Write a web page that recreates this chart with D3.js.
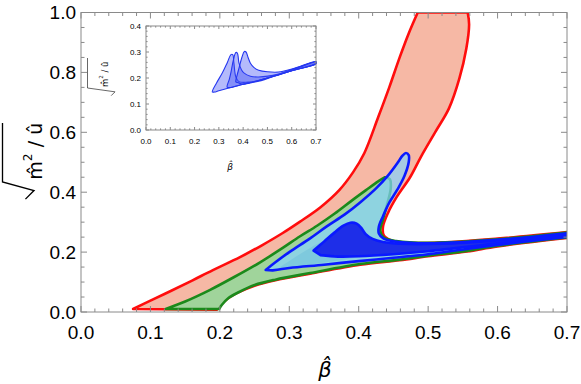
<!DOCTYPE html>
<html><head><meta charset="utf-8">
<script src="https://cdn.jsdelivr.net/npm/d3@7"></script>
<style>body{margin:0;background:#fff}svg{display:block}</style>
</head><body>
<svg id="c" width="581" height="384"></svg>
<script>
// ---- data (beta-hat, sqrt(m^2/u)) ----
const xTicks = [0.0,0.1,0.2,0.3,0.4,0.5,0.6,0.7];
const yTicks = [0.0,0.2,0.4,0.6,0.8,1.0];
const insetXTicks = [0.0,0.1,0.2,0.3,0.4,0.5,0.6,0.7];
const insetYTicks = [0.0,0.1,0.2,0.3,0.4];

// red region boundary pieces
const redLeft  = [[0.075,0.010],[0.1,0.038],[0.13,0.071],[0.16,0.105],[0.19,0.14],[0.229,0.183],[0.26,0.222],[0.29,0.263],[0.315,0.301],[0.345,0.35],[0.372,0.407],[0.392,0.467],[0.408,0.53],[0.428,0.65],[0.444,0.75],[0.459,0.85],[0.472,0.93],[0.485,1.0]];
const redRight = [[0.557,1.0],[0.559,0.96],[0.555,0.88],[0.545,0.78],[0.53,0.68],[0.51,0.6],[0.49,0.52],[0.474,0.45],[0.455,0.385],[0.442,0.33],[0.435,0.285],[0.436,0.257],[0.446,0.24],[0.466,0.232],[0.51,0.231],[0.6,0.245],[0.7,0.267]];
const redLower = [[0.7,0.247],[0.6,0.219],[0.556,0.202],[0.5,0.186],[0.459,0.173],[0.402,0.158],[0.33,0.128],[0.28,0.106],[0.25,0.088],[0.225,0.064],[0.21,0.043],[0.2,0.02],[0.196,0.008]];
// green region
const greenLeft  = [[0.122,0.010],[0.15,0.035],[0.186,0.074],[0.22,0.116],[0.258,0.166],[0.29,0.213],[0.315,0.252],[0.34,0.288],[0.365,0.328],[0.39,0.372],[0.41,0.406],[0.428,0.436],[0.438,0.45]];
const greenRight = [[0.438,0.45],[0.445,0.443],[0.446,0.41],[0.441,0.36],[0.435,0.31],[0.431,0.272],[0.436,0.249],[0.454,0.237],[0.5,0.231],[0.6,0.243],[0.7,0.265]];
const greenLower = [[0.7,0.249],[0.6,0.221],[0.556,0.204],[0.5,0.188],[0.459,0.175],[0.402,0.16],[0.33,0.13],[0.28,0.108],[0.25,0.09],[0.227,0.066],[0.212,0.046],[0.203,0.024],[0.199,0.010]];
// darker (teal) inner patch under the light blue region
const tealUpper = [[0.285,0.148],[0.305,0.178],[0.325,0.207],[0.345,0.232],[0.36,0.238]];
const tealLower = [[0.41,0.185],[0.38,0.175],[0.34,0.162],[0.3,0.15]];
// light blue region
const blueUpper = [[0.266,0.14],[0.28,0.166],[0.3,0.2],[0.33,0.246],[0.354,0.286],[0.38,0.326],[0.402,0.366],[0.425,0.413],[0.443,0.458],[0.456,0.498],[0.463,0.522],[0.468,0.531],[0.472,0.524],[0.472,0.5],[0.466,0.455],[0.456,0.41],[0.444,0.365],[0.435,0.32],[0.429,0.285],[0.429,0.262],[0.436,0.245],[0.453,0.235],[0.5,0.229],[0.6,0.241],[0.7,0.263]];
const blueLower = [[0.7,0.251],[0.6,0.224],[0.5,0.193],[0.45,0.181],[0.4,0.17],[0.35,0.158],[0.3,0.147],[0.276,0.139]];
// dark blue region
const darkUpper = [[0.335,0.205],[0.35,0.235],[0.365,0.265],[0.378,0.288],[0.388,0.298],[0.397,0.295],[0.404,0.28],[0.41,0.26],[0.42,0.244],[0.435,0.234],[0.46,0.228],[0.52,0.228],[0.6,0.239],[0.7,0.26]];
const darkLower = [[0.7,0.254],[0.6,0.229],[0.5,0.203],[0.45,0.193],[0.4,0.186],[0.37,0.185],[0.345,0.19]];

const insetFinA = [[0.273,0.146],[0.29,0.18],[0.314,0.219],[0.335,0.26],[0.35,0.29],[0.357,0.29],[0.362,0.257],[0.37,0.204],[0.383,0.186],[0.42,0.184],[0.464,0.188],[0.55,0.215],[0.62,0.238],[0.7,0.262],[0.7,0.255],[0.6,0.228],[0.5,0.2],[0.4,0.176],[0.3,0.151],[0.282,0.146]];
const insetFinB = [[0.334,0.165],[0.343,0.195],[0.35,0.223],[0.36,0.27],[0.37,0.298],[0.376,0.296],[0.383,0.257],[0.393,0.232],[0.403,0.22],[0.43,0.207],[0.464,0.204],[0.545,0.215],[0.62,0.238],[0.7,0.262],[0.7,0.255],[0.6,0.228],[0.5,0.2],[0.4,0.176],[0.345,0.163]];
const insetFinC = [[0.37,0.185],[0.375,0.21],[0.383,0.238],[0.395,0.28],[0.405,0.302],[0.412,0.3],[0.42,0.28],[0.43,0.257],[0.445,0.24],[0.464,0.23],[0.5,0.224],[0.545,0.223],[0.62,0.24],[0.7,0.263],[0.7,0.255],[0.6,0.228],[0.5,0.2],[0.4,0.176],[0.38,0.182]];

// ---- drawing ----
const svg = d3.select('#c');
const x = d3.scaleLinear([0,0.7],[81,567]);
const y = d3.scaleLinear([0,1],[312,12.5]);
const xi = d3.scaleLinear([0,0.7],[146,316]);
const yi = d3.scaleLinear([0,0.4],[130,26]);
const frameCol = '#8a8a8a';

svg.append('defs').append('clipPath').attr('id','clipMain')
  .append('rect').attr('x',x(0)).attr('y',y(1)).attr('width',x(0.7)-x(0)).attr('height',y(0)-y(1));

const gMain = svg.append('g').attr('clip-path','url(#clipMain)');
const edge = d3.line().x(d=>x(d[0])).y(d=>y(d[1])).curve(d3.curveCatmullRom.alpha(0.5));
function piecewise(pieces){
  return pieces.map((p,i)=>{ const s = edge(p); return i===0 ? s : 'L'+s.slice(1); }).join('') + 'Z';
}
function region(pieces, fill, stroke, op, sw){
  gMain.append('path').attr('d', piecewise(pieces)).attr('fill', fill).attr('fill-opacity', op)
    .attr('stroke', stroke).attr('stroke-width', sw===undefined?2.6:sw).attr('stroke-linejoin','round');
}
region([redLeft, redRight, redLower], '#f6b8a5', '#ff0d0d', 1);
region([greenLeft, greenRight, greenLower], '#a0d49b', '#1b8a1b', 1);
region([tealUpper, tealLower], '#3d8f86', 'none', 0.55, 0);
region([blueUpper, blueLower], '#86d3fb', '#0a1aff', 0.72);
region([darkUpper, darkLower], '#1e2ee8', '#0a1aff', 1);

// frame & ticks
function frame(g, xs, ys, xMaj, xMin, yMaj, yMin, lMaj, lMin){
  const [x0,x1] = xs.range(), [y0,y1] = ys.range();
  g.append('rect').attr('x',x0).attr('y',y1).attr('width',x1-x0).attr('height',y0-y1)
    .attr('fill','none').attr('stroke',frameCol).attr('stroke-width',1);
  const t = g.append('g').attr('stroke',frameCol).attr('stroke-width',1);
  xMin.forEach(v=>{ const px = xs(v), L = xMaj.some(m=>Math.abs(m-v)<1e-9)?lMaj:lMin;
    t.append('line').attr('x1',px).attr('x2',px).attr('y1',y0).attr('y2',y0-L);
    t.append('line').attr('x1',px).attr('x2',px).attr('y1',y1).attr('y2',y1+L); });
  yMin.forEach(v=>{ const py = ys(v), L = yMaj.some(m=>Math.abs(m-v)<1e-9)?lMaj:lMin;
    t.append('line').attr('y1',py).attr('y2',py).attr('x1',x0).attr('x2',x0+L);
    t.append('line').attr('y1',py).attr('y2',py).attr('x1',x1).attr('x2',x1-L); });
}
frame(svg.append('g'), x, y, xTicks, d3.range(0,0.7001,0.02), yTicks, d3.range(0,1.0001,0.05), 6, 3.5);

const font = 'Liberation Sans, Arial, Helvetica, sans-serif';
svg.append('g').selectAll('text').data(xTicks).join('text')
  .attr('x',d=>x(d)).attr('y',339).attr('text-anchor','middle')
  .attr('font-family',font).attr('font-size',19).text(d=>d.toFixed(1));
svg.append('g').selectAll('text').data(yTicks).join('text')
  .attr('x',76).attr('y',d=>y(d)+6.8).attr('text-anchor','end')
  .attr('font-family',font).attr('font-size',19).text(d=>d.toFixed(1));

// x label beta-hat
function betaHat(g, cx, base, fs){
  g.append('text').attr('x',cx).attr('y',base).attr('text-anchor','middle')
    .attr('font-family','DejaVu Sans, sans-serif').attr('font-style','italic').attr('font-size',fs).text('\u03B2\u0302');
}
betaHat(svg, 325, 377, 21);

// y label sqrt(m^2/u), rotated
function ylab(g, vx, yTop, yBot, base, fs, tipX){
  g.append('path').attr('d',`M${vx},${yTop} L${vx},${yBot} L${tipX},${yBot+fs*0.45} L${tipX-fs*0.45},${yBot+fs*0.9}`)
    .attr('fill','none').attr('stroke','#000').attr('stroke-width',fs*0.07);
  const t = g.append('text').attr('transform',`translate(${base},${yBot-fs*0.12}) rotate(-90)`)
    .attr('font-family','DejaVu Sans, sans-serif').attr('font-size',fs);
  t.append('tspan').text('m\u0302');
  t.append('tspan').attr('font-size',fs*0.65).attr('dy',-fs*0.55).text('2');
  t.append('tspan').attr('dy',fs*0.55).text(' / u\u0302');
}
ylab(svg.append('g'), 2.5, 123, 182, 42, 19, 34);

// ---- inset ----
const gi = svg.append('g');
gi.append('rect').attr('x',xi(0)).attr('y',yi(0.4)).attr('width',xi(0.7)-xi(0)).attr('height',yi(0)-yi(0.4)).attr('fill','#fff');
const lineI = d3.line().x(d=>xi(d[0])).y(d=>yi(d[1])).curve(d3.curveCatmullRomClosed.alpha(0.5));
[insetFinA, insetFinB, insetFinC].forEach(f=>{
  gi.append('path').attr('d',lineI(f)).attr('fill','#3a4af5').attr('fill-opacity',0.38)
    .attr('stroke','#2436f0').attr('stroke-width',1.1).attr('stroke-linejoin','round');
});
frame(gi, xi, yi, insetXTicks, d3.range(0,0.7001,0.02), insetYTicks, d3.range(0,0.4001,0.02), 3, 1.6);
gi.append('g').selectAll('text').data(insetXTicks).join('text')
  .attr('x',d=>xi(d)).attr('y',144).attr('text-anchor','middle')
  .attr('font-family',font).attr('font-size',8).text(d=>d.toFixed(1));
gi.append('g').selectAll('text').data(insetYTicks).join('text')
  .attr('x',141).attr('y',d=>yi(d)+3).attr('text-anchor','end')
  .attr('font-family',font).attr('font-size',8).text(d=>d.toFixed(1));
betaHat(gi, 230, 170, 9);
ylab(gi.append('g'), 87.5, 58, 88, 108, 8.5, 115);
</script>
</body></html>
